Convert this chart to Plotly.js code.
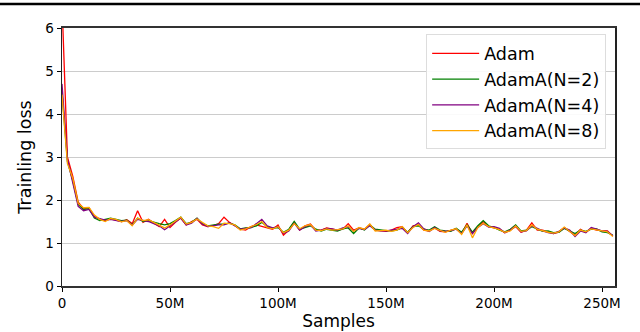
<!DOCTYPE html>
<html>
<head>
<meta charset="utf-8">
<script src="https://cdn.plot.ly/plotly-3.0.1.min.js"></script>
<style>
  html, body { margin: 0; padding: 0; background: #fff; }
  #chart { width: 640px; height: 332px; }
</style>
</head>
<body>
<div id="chart"></div>
<script>
// samples, in millions (step 2.5M)
var samples = [];
for (var i = 0; i <= 102; i++) samples.push(i * 2.5);

var adam = [6.6, 3.0, 2.55, 1.95, 1.80, 1.82, 1.62, 1.55, 1.52, 1.56, 1.53, 1.50, 1.54, 1.45, 1.75, 1.48, 1.55, 1.47, 1.38, 1.55,
  1.36, 1.48, 1.58, 1.42, 1.50, 1.55, 1.42, 1.38, 1.40, 1.45, 1.60, 1.48, 1.40, 1.32, 1.30, 1.38, 1.42, 1.38, 1.35, 1.32,
  1.42, 1.18, 1.30, 1.48, 1.30, 1.40, 1.44, 1.30, 1.30, 1.35, 1.32, 1.30, 1.32, 1.45, 1.30, 1.35, 1.32, 1.43, 1.30, 1.28,
  1.27, 1.30, 1.36, 1.38, 1.24, 1.40, 1.42, 1.30, 1.28, 1.35, 1.27, 1.26, 1.30, 1.33, 1.22, 1.46, 1.22, 1.38, 1.50, 1.38,
  1.35, 1.32, 1.24, 1.30, 1.38, 1.25, 1.30, 1.47, 1.30, 1.30, 1.26, 1.22, 1.25, 1.36, 1.27, 1.18, 1.32, 1.25, 1.34, 1.30,
  1.28, 1.28, 1.16];

var adamN2 = [4.5, 2.9, 2.45, 1.90, 1.78, 1.80, 1.58, 1.52, 1.55, 1.58, 1.55, 1.52, 1.53, 1.42, 1.58, 1.50, 1.52, 1.48, 1.45, 1.42,
  1.45, 1.52, 1.60, 1.45, 1.48, 1.58, 1.45, 1.40, 1.42, 1.44, 1.44, 1.46, 1.42, 1.33, 1.35, 1.36, 1.40, 1.48, 1.38, 1.34,
  1.36, 1.25, 1.32, 1.50, 1.32, 1.36, 1.40, 1.32, 1.28, 1.32, 1.30, 1.28, 1.33, 1.35, 1.22, 1.35, 1.30, 1.42, 1.32, 1.30,
  1.29, 1.28, 1.30, 1.36, 1.25, 1.38, 1.40, 1.32, 1.30, 1.38, 1.30, 1.28, 1.27, 1.34, 1.25, 1.42, 1.25, 1.40, 1.52, 1.40,
  1.36, 1.30, 1.26, 1.32, 1.42, 1.28, 1.30, 1.38, 1.32, 1.27, 1.28, 1.24, 1.25, 1.34, 1.28, 1.22, 1.30, 1.27, 1.32, 1.33,
  1.26, 1.24, 1.18];

var adamN4 = [4.7, 2.95, 2.4, 1.85, 1.75, 1.78, 1.60, 1.56, 1.53, 1.55, 1.52, 1.50, 1.52, 1.42, 1.55, 1.52, 1.50, 1.45, 1.40, 1.31,
  1.40, 1.48, 1.58, 1.42, 1.46, 1.57, 1.44, 1.38, 1.40, 1.42, 1.42, 1.47, 1.40, 1.32, 1.34, 1.36, 1.45, 1.55, 1.40, 1.35,
  1.38, 1.22, 1.28, 1.46, 1.30, 1.38, 1.42, 1.28, 1.30, 1.34, 1.33, 1.30, 1.35, 1.38, 1.28, 1.34, 1.31, 1.40, 1.30, 1.28,
  1.28, 1.30, 1.33, 1.34, 1.22, 1.38, 1.47, 1.33, 1.27, 1.36, 1.28, 1.27, 1.29, 1.32, 1.22, 1.40, 1.22, 1.36, 1.45, 1.37,
  1.38, 1.34, 1.24, 1.30, 1.40, 1.26, 1.28, 1.40, 1.34, 1.28, 1.24, 1.22, 1.27, 1.35, 1.30, 1.15, 1.28, 1.24, 1.36, 1.32,
  1.28, 1.27, 1.17];

var adamN8 = [4.45, 2.85, 2.5, 1.92, 1.82, 1.83, 1.65, 1.55, 1.50, 1.57, 1.55, 1.49, 1.52, 1.40, 1.58, 1.52, 1.54, 1.48, 1.42, 1.35,
  1.42, 1.50, 1.60, 1.44, 1.48, 1.56, 1.47, 1.40, 1.38, 1.34, 1.46, 1.45, 1.42, 1.30, 1.33, 1.38, 1.43, 1.50, 1.36, 1.33,
  1.38, 1.24, 1.30, 1.45, 1.33, 1.40, 1.43, 1.30, 1.29, 1.33, 1.30, 1.31, 1.33, 1.40, 1.27, 1.36, 1.32, 1.44, 1.28, 1.29,
  1.30, 1.27, 1.30, 1.38, 1.24, 1.36, 1.43, 1.30, 1.28, 1.34, 1.29, 1.25, 1.30, 1.33, 1.20, 1.42, 1.12, 1.36, 1.46, 1.38,
  1.35, 1.31, 1.25, 1.28, 1.40, 1.27, 1.29, 1.42, 1.32, 1.28, 1.25, 1.23, 1.26, 1.37, 1.28, 1.17, 1.30, 1.26, 1.33, 1.31,
  1.29, 1.26, 1.15];

var xTicks = [0, 50, 100, 150, 200, 250];
var xTickText = ['0', '50M', '100M', '150M', '200M', '250M'];
var yTicks = [0, 1, 2, 3, 4, 5, 6];

var names = ['Adam', 'AdamA(N=2)', 'AdamA(N=4)', 'AdamA(N=8)'];
var colors = ['#ff0000', '#008000', '#800080', '#ffa500'];
var series = [adam, adamN2, adamN4, adamN8];

var data = series.map(function (ys, k) {
  return {
    x: samples,
    y: ys,
    name: names[k],
    mode: 'lines',
    line: {color: colors[k], width: 1.3},
    hoverinfo: 'skip'
  };
});

var font = 'DejaVu Sans, sans-serif';

var layout = {
  width: 640,
  height: 332,
  margin: {l: 62, r: 25, t: 28, b: 46},
  paper_bgcolor: '#fff',
  plot_bgcolor: '#fff',
  showlegend: true,
  font: {family: font, color: '#000', size: 13},
  xaxis: {
    range: [0, 256],
    tickvals: xTicks,
    ticktext: xTickText,
    ticks: 'outside',
    ticklen: 4,
    tickcolor: '#000',
    showgrid: false,
    zeroline: false,
    showline: true,
    mirror: true,
    linecolor: '#333',
    linewidth: 2,
    tickfont: {size: 13.5},
    title: {text: 'Samples', font: {size: 17}, standoff: 5}
  },
  yaxis: {
    range: [0, 6],
    tickvals: yTicks,
    ticks: 'outside',
    ticklen: 4,
    tickcolor: '#000',
    showgrid: true,
    gridcolor: '#cccccc',
    gridwidth: 1,
    zeroline: false,
    showline: true,
    mirror: true,
    linecolor: '#222',
    linewidth: 1.5,
    tickfont: {size: 13.5},
    title: {text: 'Trainling loss', font: {size: 17.5}, standoff: 9}
  },
  legend: {
    x: 0.984,
    y: 0.975,
    xanchor: 'right',
    yanchor: 'top',
    bgcolor: 'rgba(255,255,255,0.9)',
    bordercolor: '#dddddd',
    borderwidth: 1,
    font: {size: 17.5},
    itemwidth: 47,
    tracegroupgap: 0
  },
  shapes: [{
    type: 'line',
    xref: 'paper', yref: 'paper',
    x0: -0.12, x1: 1.05, y0: 1.093, y1: 1.093,
    line: {color: '#000', width: 2.5}
  }]
};

Plotly.newPlot('chart', data, layout, {displayModeBar: false, staticPlot: true});
</script>
</body>
</html>
